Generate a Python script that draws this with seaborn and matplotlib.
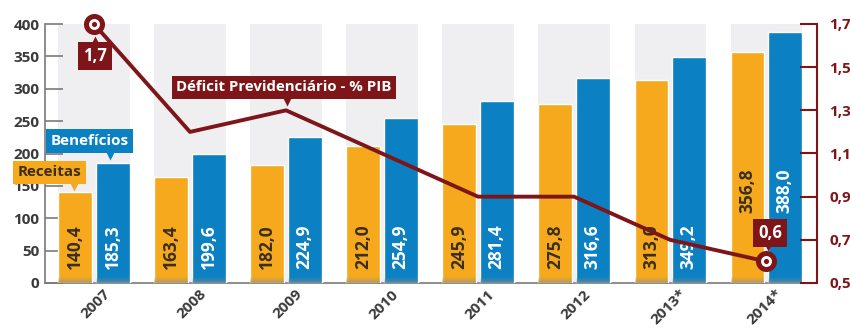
import numpy as np
import pandas as pd
import matplotlib
matplotlib.use("Agg")
import matplotlib.pyplot as plt
from matplotlib.patches import Rectangle
from matplotlib.transforms import offset_copy, ScaledTranslation
import seaborn as sns

# Dados (R$ bilhões e % do PIB)
anos = ["2007", "2008", "2009", "2010", "2011", "2012", "2013*", "2014*"]
receitas = [140.4, 163.4, 182.0, 212.0, 245.9, 275.8, 313.0, 356.8]
beneficios = [185.3, 199.6, 224.9, 254.9, 281.4, 316.6, 349.2, 388.0]
deficit_pib = [1.7, 1.2, 1.3, 1.1, 0.9, 0.9, 0.7, 0.6]
series = ["Receitas", "Benefícios"]
ticks_esq = [0, 50, 100, 150, 200, 250, 300, 350, 400]
ticks_dir = [0.5, 0.7, 0.9, 1.1, 1.3, 1.5, 1.7]

LARANJA = "#F6A91D"
AZUL = "#0B80C2"
VINHO = "#7E1619"
CINZA_COL = "#EFEFF1"
TEXTO = "#3A3A3A"
EIXO = "#7A7A7A"

sns.set_style("white")
plt.rcParams["font.family"] = ["Open Sans", "DejaVu Sans"]
plt.rcParams["font.weight"] = "bold"


def virgula(v, casas=1):
    return f"{v:.{casas}f}".replace(".", ",")


df = pd.DataFrame({
    "ano": anos * 2,
    "valor": receitas + beneficios,
    "serie": [series[0]] * len(anos) + [series[1]] * len(anos),
})

fig = plt.figure(figsize=(8.5, 3.34), dpi=100)
ax = fig.add_axes([45 / 850, 51 / 334, 772 / 850, 259 / 334])

sns.barplot(data=df, x="ano", y="valor", hue="serie", hue_order=series,
            palette=[LARANJA, AZUL], width=0.78, gap=0.1, saturation=1,
            legend=False, ax=ax, zorder=3)
ax.set_xlim(-0.51, 7.53)
ax.set_ylim(0, 400)
ax.set_xlabel("")
ax.set_ylabel("")

barras_rec = list(ax.containers[0])
barras_ben = list(ax.containers[1])

# colunas cinza de fundo para cada ano
for br, bb in zip(barras_rec, barras_ben):
    ax.axvspan(br.get_x(), bb.get_x() + bb.get_width(), color=CINZA_COL,
               lw=0, zorder=0)

# sombra na base das barras
for b in barras_rec + barras_ben:
    passos = 8
    for k in range(passos):
        ax.add_patch(Rectangle((b.get_x(), k * 1.2), b.get_width(), 1.2,
                               color="#8c8c8c", alpha=0.55 * (1 - k / passos),
                               lw=0, zorder=3.5))

# rótulos de valor dentro das barras
for i, (br, bb) in enumerate(zip(barras_rec, barras_ben)):
    base = 108 if i == len(anos) - 1 else 21
    for b, v, cor in ((br, receitas[i], "#3b2f1a"), (bb, beneficios[i], "white")):
        ax.text(b.get_x() + b.get_width() / 2, base, virgula(v), rotation=90,
                ha="center", va="bottom", fontsize=12.5, color=cor,
                fontweight="bold", zorder=5)

# eixo esquerdo e base
for s in ("top", "right"):
    ax.spines[s].set_visible(False)
ax.spines["left"].set_color(EIXO)
ax.spines["left"].set_linewidth(1.2)
ax.spines["bottom"].set_color(EIXO)
ax.spines["bottom"].set_linewidth(1.2)
ax.set_yticks(ticks_esq)
ax.tick_params(axis="y", direction="in", length=13, width=1.2, color=EIXO,
               labelsize=11, labelcolor=TEXTO, pad=4)
ax.tick_params(axis="x", length=0, labelsize=11, labelcolor=TEXTO, pad=3)
ax.set_xticks(range(len(anos)))
ax.set_xticklabels(anos, rotation=45, ha="right", rotation_mode="anchor",
                   fontweight="bold")
for lab in ax.get_xticklabels():
    lab.set_transform(lab.get_transform()
                      + ScaledTranslation(9 / 100, 0, fig.dpi_scale_trans))
ax.set_xticks(np.arange(0.5, len(anos) - 1, 1), minor=True)
ax.tick_params(axis="x", which="minor", direction="in", length=5, width=1.2,
               color=EIXO)
for lab in ax.get_yticklabels():
    lab.set_fontweight("bold")

# linha do déficit em % do PIB (eixo direito)
ax2 = ax.twinx()
sns.lineplot(x=np.arange(len(anos)), y=deficit_pib, ax=ax2, color=VINHO,
             lw=2.8, zorder=4)
ax2.set_ylim(0.5, 1.7)
ax2.set_xlim(-0.51, 7.53)
for s in ("top", "left", "bottom"):
    ax2.spines[s].set_visible(False)
ax2.spines["right"].set_color(VINHO)
ax2.spines["right"].set_linewidth(1.5)
ax2.set_yticks(ticks_dir)
ax2.set_yticklabels([virgula(t) for t in ticks_dir], fontweight="bold")
ax2.tick_params(axis="y", direction="in", length=12, width=1.5, color=VINHO,
                labelsize=11, labelcolor=VINHO, pad=9)

# marcadores das extremidades
ext = [0, len(anos) - 1]
ext_y = [deficit_pib[i] for i in ext]
ax2.scatter(ext, ext_y, s=230, color=VINHO, zorder=6, clip_on=False, lw=0)
ax2.scatter(ext, ext_y, s=62, color="white", zorder=7, clip_on=False, lw=0)
ax2.scatter(ext, ext_y, s=14, color=VINHO, zorder=8, clip_on=False, lw=0)


def balao(eixo, x, y, texto, caixa, seta, marca, fundo, cor, fs=10):
    eixo.annotate(texto, xy=(x, y), xytext=(caixa[0], -caixa[1]),
                  textcoords="offset pixels", ha="center", va="center",
                  fontsize=fs, color=cor, fontweight="bold",
                  bbox=dict(boxstyle="square,pad=0.3", fc=fundo, ec="none"),
                  zorder=9, annotation_clip=False)
    tr = offset_copy(eixo.transData, fig=fig, x=seta[0], y=-seta[1],
                     units="dots")
    eixo.plot([x], [y], marker=marca, ms=7, color=fundo, mec="none",
              ls="none", transform=tr, clip_on=False, zorder=9)


n = len(anos)
balao(ax2, 0, deficit_pib[0], virgula(deficit_pib[0]), (1, 32), (1, 17), "^",
      VINHO, "white", 12)
balao(ax2, n - 1, deficit_pib[-1], virgula(deficit_pib[-1]), (4, -28), (2, -15),
      "v", VINHO, "white", 12)
balao(ax2, 2, deficit_pib[2], "Déficit Previdenciário - % PIB", (-2, -23),
      (1, -9), "v", VINHO, "white", 10.8)
bb0 = barras_ben[0]
br0 = barras_rec[0]
balao(ax2, bb0.get_x() + bb0.get_width() / 2,
      0.5 + beneficios[0] / 400 * 1.2, series[1], (-23, -22), (-3, -8), "v",
      AZUL, "white", 11)
balao(ax2, br0.get_x() + br0.get_width() / 2,
      0.5 + receitas[0] / 400 * 1.2, series[0], (-26, -20), (-1, -6), "v",
      LARANJA, "#3b2f1a", 11)

fig.savefig("out.png", dpi=100)
